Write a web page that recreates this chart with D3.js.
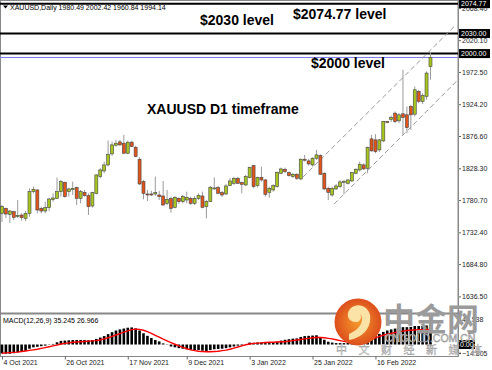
<!DOCTYPE html>
<html>
<head>
<meta charset="utf-8">
<script src="https://cdn.jsdelivr.net/npm/d3@7"></script>
<style>
  body { margin: 0; background: #fff; }
  svg { display: block; font-family: "Liberation Sans", Arial, sans-serif; }
</style>
</head>
<body>
<div id="chart"></div>
<script>
// daily candles
const opens = [1760.8,1768.3,1759.3,1763.3,1757.3,1758.3,1753.3,1760.8,1793.3,1795.8,1768.3,1764.3,1769.3,1781.3,1783.3,1793.3,1807.3,1793.3,1797.8,1799.3,
  1783.3,1792.3,1787.3,1771.8,1790.8,1815.8,1824.3,1833.3,1849.8,1862.8,1867.8,1865.8,1850.8,1867.3,1859.8,1841.8,1808.3,1789.8,1789.8,1789.8,
  1788.3,1786.8,1775.8,1782.8,1769.8,1783.3,1778.3,1780.8,1783.3,1775.8,1783.3,1786.8,1770.8,1778.3,1798.3,1799.3,1791.8,1789.8,1802.3,1805.8,
  1813.3,1806.8,1803.3,1814.3,1832.3,1802.3,1814.8,1810.8,1792.3,1795.8,1800.8,1820.8,1826.8,1821.8,1815.8,1819.3,1812.3,1841.8,1839.3,1833.3,
  1843.3,1847.3,1820.8,1798.3,1788.3,1797.3,1800.8,1808.3,1805.8,1809.3,1820.8,1825.8,1833.3,1828.3,1872.3,1870.8,1855.8,1869.3,1898.3,1901.3,
  1910.8,1899.3,1909.8,1908.3,1920.8,1909.3,1943.3,1928.3,1935.8,1980.49];
const highs = [1773.3,1769.3,1765.8,1764.3,1780.8,1760.8,1764.3,1798.3,1800.8,1796.8,1770.8,1778.3,1784.3,1790.8,1814.3,1810.8,1808.3,1799.3,1808.3,1800.8,
  1795.8,1795.8,1790.8,1793.3,1819.3,1828.3,1838.3,1869.8,1868.3,1870.8,1870.8,1878.3,1869.8,1869.8,1861.8,1844.8,1810.8,1795.8,1794.8,1815.8,
  1794.3,1809.3,1795.8,1785.8,1786.8,1784.8,1788.3,1793.3,1785.8,1786.8,1790.8,1793.3,1780.8,1801.8,1814.8,1801.8,1794.3,1804.8,1813.8,1815.3,
  1815.3,1808.3,1818.3,1830.8,1833.3,1815.8,1830.8,1812.3,1800.8,1804.3,1823.3,1829.3,1829.3,1823.3,1821.3,1820.8,1843.3,1848.3,1842.3,1844.8,
  1855.8,1849.3,1822.3,1800.8,1800.8,1804.8,1810.8,1810.8,1812.3,1822.8,1828.3,1838.3,1835.8,1860.8,1878.3,1879.3,1872.3,1899.3,1899.3,1907.3,
  1913.3,1910.8,1975.8,1920.8,1923.3,1950.8,1945.8,1940.8,1973.3,2002.42];
const lows = [1747.8,1753.8,1746.3,1750.8,1753.8,1749.8,1749.3,1755.8,1790.8,1760.8,1760.8,1760.8,1764.3,1778.3,1782.3,1785.8,1784.3,1785.8,1788.3,1773.3,
  1775.8,1785.8,1758.3,1769.3,1789.3,1813.3,1820.8,1830.8,1846.8,1860.8,1861.8,1849.8,1849.3,1859.8,1844.8,1803.3,1781.8,1779.3,1786.8,1786.8,
  1780.8,1771.8,1773.3,1761.8,1768.3,1774.8,1775.8,1775.8,1773.3,1773.3,1780.8,1768.3,1753.3,1777.8,1796.8,1789.8,1785.3,1788.3,1801.8,1803.3,
  1804.8,1790.8,1801.8,1813.3,1798.3,1799.3,1808.3,1785.8,1784.3,1793.3,1799.3,1819.3,1820.8,1815.8,1813.8,1810.8,1810.8,1838.3,1832.3,1830.8,
  1840.8,1818.3,1795.8,1780.8,1785.8,1795.8,1798.8,1789.3,1804.0,1807.8,1819.3,1823.3,1825.8,1820.8,1853.3,1850.8,1852.8,1867.3,1895.8,1897.3,
  1895.8,1895.8,1878.3,1880.8,1885.8,1905.8,1925.8,1924.3,1930.8,1960.84];
const closes = [1770.8,1759.8,1764.3,1754.8,1757.8,1754.3,1760.8,1793.3,1796.8,1765.8,1764.3,1769.3,1782.3,1783.8,1793.3,1808.3,1785.8,1797.3,1798.3,1783.3,
  1793.3,1787.3,1770.8,1791.8,1818.3,1825.8,1833.3,1849.3,1863.3,1865.8,1863.3,1850.8,1867.3,1860.8,1845.8,1804.8,1790.8,1789.3,1789.3,1791.8,
  1785.8,1773.3,1781.8,1768.3,1784.8,1778.3,1785.8,1784.8,1775.8,1783.3,1787.8,1769.8,1778.3,1799.8,1798.8,1790.8,1788.3,1801.8,1809.3,1813.3,
  1805.8,1804.3,1815.8,1829.3,1800.8,1814.3,1810.8,1789.3,1798.3,1802.3,1822.3,1827.3,1823.3,1817.3,1819.3,1813.3,1841.8,1841.3,1834.8,1843.3,
  1848.3,1819.3,1797.3,1792.3,1798.3,1801.8,1807.8,1808.8,1810.8,1821.8,1826.8,1834.3,1827.3,1859.3,1854.3,1853.3,1870.8,1898.3,1897.8,1904.3,
  1898.3,1908.3,1904.3,1889.3,1908.3,1945.8,1928.3,1937.3,1970.8,1994.14];

// MACD(12,26,9): main (histogram) and signal (red line)
const macdMain = [-16,-16.5,-16.5,-15.5,-14,-12.5,-11,-7.5,-5,-4,-3,-2,-0.5,1,
  4,6.5,7,7.5,8,8,8,8,7.5,8,10,
  12.5,15,18.5,22,25,27,28.5,30,30.5,29,25,20,15.5,11.5,8,5.5,2,
  -0.5,-3.5,-5,-6.5,-7.5,-8.5,-9.5,-10,-10,-11,-11.5,-10,-8.5,-8,-7.5,-6.5,-5,-3.5,-2,-1.5,0,
  3.5,3,3.5,3.5,2.5,2.5,3,5,7,8.5,9.5,10.5,11,13.5,15,15.5,16,16.5,13,8.5,
  5,3.5,2.5,2.5,2.5,3,4.5,6,8,9,12,15,17,19,22.5,25,27,28.5,30,31,
  31,31.5,33,33,33,34,35.245];
const macdSignal = [-15.5,-15,-14.5,-14,-13.5,-12.5,-11.5,-10.5,-9.5,-8.5,-7,-5.5,-4,-2.5,-1,
  1,2,3,4,4.5,5,5.5,6,6.5,7,
  8,10,12,14.5,17,19.5,22,24.5,26.5,27.5,27,25.5,23,20,16.5,13,9.5,6.5,3.5,0.5,
  -2.5,-5,-7.5,-9.5,-11,-12,-12.5,-13,-13,-12.5,
  -12,-11,-10,-8.5,-6.5,-4.5,-2.5,-0.5,1,
  2,2.5,3,3.5,4,4,4.5,5,5,6,7,8,9,10,11,12,12.5,12.5,12,11,
  10,8.5,7,5.5,4.5,4,4,4.5,5,6.5,9,12,14.5,16.5,18.5,20,21.5,23,24,25,
  25.5,26,26.5,26.5,26.8,26.966];

const firstDay = '2021-10-04';
const holidays = ['2021-11-25', '2021-12-24'];
const dateTicks = ['2021-10-04', '2021-10-26', '2021-11-17', '2021-12-09', '2022-01-03', '2022-01-25', '2022-02-16'];
const priceTicks = [1636.5, 1684.8, 1732.4, 1780.7, 1828.3, 1876.6, 1924.2, 1972.5, 2020.1, 2068.4];
const levelPrices = [2074.77, 2030, 2000];
const levelTexts = ['$2074.77 level', '$2030 level', '$2000 level'];
const macdTicks = [45.538, -14.805];
// channel lines as [bar, price]
const upperChannel = [[76.6, 1815.3], [115.5, 2043.3]];
const lowerChannel = [[84.5, 1774.8], [116, 1960.8]];

const W = 492, H = 370;
const plotRight = 458;
const mainBottom = 312, macdTop = 315, macdBottom = 356.5;

const svg = d3.select('#chart').append('svg')
  .attr('width', W)
  .attr('height', H);

// trading days
const ymd = d3.utcFormat('%Y-%m-%d');
const dates = [];
for (let d = d3.utcParse('%Y-%m-%d')(firstDay); dates.length < closes.length; d = d3.utcDay.offset(d, 1)) {
  const wd = d.getUTCDay();
  if (wd === 0 || wd === 6 || holidays.includes(ymd(d))) continue;
  dates.push(d);
}
const bars = closes.map((c, i) => ({ i, o: opens[i], h: highs[i], l: lows[i], c }));

const x = d3.scaleLinear().domain([-0.5, 116]).range([0, plotRight]);
const y = d3.scaleLinear().domain([1613.1, 2080.2]).range([mainBottom, 0]);
const ym = d3.scaleLinear().domain([-21.4, 52.7]).range([macdBottom, macdTop]);

// frame
svg.append('rect')
  .attr('x', 0.5).attr('y', 0.5)
  .attr('width', plotRight - 0.5).attr('height', macdBottom - 0.5)
  .attr('fill', 'none').attr('stroke', '#888');

// header
svg.append('path').attr('d', 'M3,5.5 L8,5.5 L5.5,8.5 Z').attr('fill', '#000');
svg.append('text')
  .attr('x', 10).attr('y', 9.5)
  .style('font-size', '7px')
  .text('XAUUSD,Daily  1980.49 2002.42 1960.84 1994.14');

// level lines
svg.selectAll('.level')
  .data(levelPrices)
  .enter()
  .append('line')
  .attr('x1', 0).attr('x2', plotRight)
  .attr('y1', d => y(d)).attr('y2', d => y(d))
  .attr('stroke', '#000').attr('stroke-width', 2);

// current price line
svg.append('line')
  .attr('x1', 0).attr('x2', plotRight)
  .attr('y1', y(closes[closes.length - 1])).attr('y2', y(closes[closes.length - 1]))
  .attr('stroke', '#7b7bea').attr('stroke-width', 1);

// channel
[upperChannel, lowerChannel].forEach(pts => {
  svg.append('line')
    .attr('x1', x(pts[0][0])).attr('y1', y(pts[0][1]))
    .attr('x2', x(pts[1][0])).attr('y2', y(pts[1][1]))
    .attr('stroke', '#999').attr('stroke-width', 1)
    .attr('stroke-dasharray', '5,3');
});

// candles
const candle = svg.append('g');
candle.selectAll('line')
  .data(bars)
  .enter()
  .append('line')
  .attr('x1', d => x(d.i)).attr('x2', d => x(d.i))
  .attr('y1', d => y(d.h)).attr('y2', d => y(d.l))
  .attr('stroke', '#9a9a9a').attr('stroke-width', 1);
candle.selectAll('rect')
  .data(bars)
  .enter()
  .append('rect')
  .attr('x', d => x(d.i) - 1.5)
  .attr('y', d => y(Math.max(d.o, d.c)))
  .attr('width', 3)
  .attr('height', d => Math.max(1, Math.abs(y(d.o) - y(d.c))))
  .attr('fill', d => d.c >= d.o ? '#a6c51d' : '#e2541a')
  .attr('stroke', '#444').attr('stroke-width', 0.6);

// annotations
const notes = [
  { t: levelTexts[0], x: 293, y: 18.5 },
  { t: levelTexts[1], x: 200, y: 25 },
  { t: levelTexts[2], x: 311, y: 68 },
  { t: 'XAUUSD D1 timeframe', x: 147, y: 113.5 }
];
svg.selectAll('.note')
  .data(notes)
  .enter()
  .append('text')
  .attr('x', d => d.x).attr('y', d => d.y)
  .style('font-size', '14px').style('font-weight', 'bold')
  .text(d => d.t);

// MACD panel
svg.append('line')
  .attr('x1', 0).attr('x2', plotRight)
  .attr('y1', 313.5).attr('y2', 313.5)
  .attr('stroke', '#888').attr('stroke-width', 2);
svg.append('g').selectAll('rect')
  .data(macdMain)
  .enter()
  .append('rect')
  .attr('x', (d, i) => x(i) - 1.3)
  .attr('y', d => Math.min(ym(d), ym(0)))
  .attr('width', 2.6)
  .attr('height', d => Math.abs(ym(d) - ym(0)))
  .attr('fill', '#000');
svg.append('path')
  .datum(macdSignal)
  .attr('d', d3.line().x((d, i) => x(i)).y(d => ym(d)))
  .attr('fill', 'none').attr('stroke', '#f00').attr('stroke-width', 1.4);
svg.append('text')
  .attr('x', 3).attr('y', 323)
  .style('font-size', '7px')
  .text('MACD(12,26,9) 35.245 26.966');

// price axis
const yAxis = svg.append('g')
  .attr('transform', `translate(${plotRight}, 0)`)
  .call(d3.axisRight(y).tickValues(priceTicks).tickSize(3).tickFormat(d3.format('.2f')));
yAxis.select('.domain').remove();
yAxis.selectAll('text').style('font-size', '7px').attr('fill', '#222').attr('x', 4)
  .style('font-family', '"Liberation Sans", Arial, sans-serif');
yAxis.selectAll('line').attr('stroke', '#666');

// level tags on the axis
svg.selectAll('.tag')
  .data(levelPrices)
  .enter()
  .append('rect')
  .attr('x', plotRight).attr('y', d => y(d) - 4.5)
  .attr('width', 32).attr('height', 9)
  .attr('fill', '#000');
svg.selectAll('.tagtext')
  .data(levelPrices)
  .enter()
  .append('text')
  .attr('x', plotRight + 3).attr('y', d => y(d) + 2.5)
  .style('font-size', '7px').attr('fill', '#fff')
  .text(d => d3.format('.2f')(d));

// macd axis
const mAxis = svg.append('g')
  .attr('transform', `translate(${plotRight}, 0)`)
  .call(d3.axisRight(ym).tickValues(macdTicks).tickSize(3).tickFormat(d3.format('.3f')));
mAxis.select('.domain').remove();
mAxis.selectAll('text').style('font-size', '7px').attr('fill', '#222').attr('x', 4)
  .style('font-family', '"Liberation Sans", Arial, sans-serif');
svg.append('rect')
  .attr('x', plotRight).attr('y', ym(0) - 4.5)
  .attr('width', 17).attr('height', 9).attr('fill', '#000');
svg.append('text')
  .attr('x', plotRight + 2).attr('y', ym(0) + 2.5)
  .style('font-size', '7px').attr('fill', '#fff')
  .text('0.00');

// vertical axis line
svg.append('line')
  .attr('x1', plotRight + 0.5).attr('x2', plotRight + 0.5)
  .attr('y1', 0).attr('y2', macdBottom)
  .attr('stroke', '#888');

// date axis
const fmtDate = d3.utcFormat('%-d %b %Y');
const tickIdx = dateTicks.map(t => dates.findIndex(d => ymd(d) === t));
const xAxis = svg.append('g')
  .attr('transform', `translate(0, ${macdBottom})`)
  .call(d3.axisBottom(x).tickValues(tickIdx).tickSize(3).tickFormat(i => fmtDate(dates[i])));
xAxis.select('.domain').remove();
xAxis.selectAll('line').attr('stroke', '#666');
xAxis.selectAll('text')
  .style('font-size', '7px').style('font-family', '"Liberation Sans", Arial, sans-serif')
  .attr('fill', '#222').attr('text-anchor', 'start').attr('dx', 1).attr('y', 4);

// watermark
const wm = svg.append('g');
const grad = svg.append('defs').append('radialGradient').attr('id', 'logo');
grad.append('stop').attr('offset', '0%').attr('stop-color', '#f59a2c');
grad.append('stop').attr('offset', '100%').attr('stop-color', '#dc4e1c');
wm.append('circle').attr('cx', 358).attr('cy', 322).attr('r', 23.5).attr('fill', 'url(#logo)');
wm.append('path')
  .attr('d', 'M349,340 C362,338 372,328 370,315 C368,305 356,302 350,309 C345,315 349,323 357,322 C361,321 362,317 360,314 C364,318 363,328 349,334 Z')
  .attr('fill', '#fbe3a8');
wm.append('text')
  .attr('x', 383).attr('y', 331)
  .style('font-family', '"Noto Sans CJK SC"').style('font-size', '32px').style('font-weight', 'bold')
  .attr('fill', '#9b9b9b')
  .text('中金网');
wm.append('text')
  .attr('x', 385).attr('y', 342)
  .style('font-size', '10.5px')
  .attr('fill', '#e6e6e6').attr('stroke', '#8c8c8c').attr('stroke-width', 0.5)
  .text('CNGOLD.COM.CN');
wm.append('g').selectAll('text')
  .data(Array.from('中文财经新媒体'))
  .enter()
  .append('text')
  .attr('x', (d, i) => 336 + i * 22.5).attr('y', 354)
  .style('font-family', '"Noto Sans CJK SC"').style('font-size', '11px')
  .attr('fill', '#e0e0e0').attr('stroke', '#9a9a9a').attr('stroke-width', 0.4)
  .text(d => d);
</script>
</body>
</html>
